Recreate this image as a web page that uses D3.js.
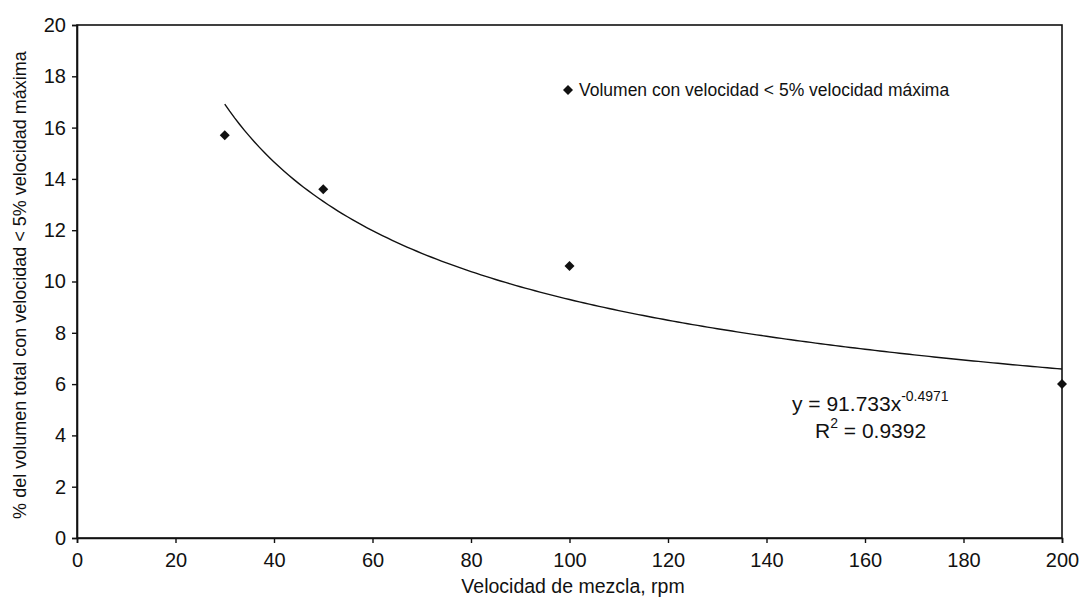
<!DOCTYPE html>
<html>
<head>
<meta charset="utf-8">
<script src="https://cdn.jsdelivr.net/npm/d3@7"></script>
<style>
  body { margin: 0; background: #fff; }
  text { font-family: "Liberation Sans", Arial, sans-serif; fill: #111; }
</style>
</head>
<body>
<div id="chart"></div>
<script>
// measured points
const rpm = [30, 50, 100, 200];
const pctVolume = [15.7, 13.6, 10.6, 6.0];

// power trendline shown in the chart: y = a * x^b
const trendA = 91.733;
const trendB = -0.4971;
const trendFrom = 30, trendTo = 200;

const xTicks = [0, 20, 40, 60, 80, 100, 120, 140, 160, 180, 200];
const yTicks = [0, 2, 4, 6, 8, 10, 12, 14, 16, 18, 20];

const svgWidth = 1085, svgHeight = 599;
const margin = { top: 25, right: 23, bottom: 61, left: 77 };
const width = svgWidth - margin.left - margin.right;
const height = svgHeight - margin.top - margin.bottom;

const svg = d3.select("#chart").append("svg")
  .attr("width", svgWidth)
  .attr("height", svgHeight);

const g = svg.append("g")
  .attr("transform", `translate(${margin.left}, ${margin.top})`);

const x = d3.scaleLinear().domain([0, 200]).range([0, width]);
const y = d3.scaleLinear().domain([0, 20]).range([height, 0]);

// frame
g.append("rect")
  .attr("width", width).attr("height", height)
  .attr("fill", "none").attr("stroke", "#111").attr("stroke-width", 1.6);

const xAxis = g.append("g")
  .attr("transform", `translate(0, ${height})`)
  .call(d3.axisBottom(x).tickValues(xTicks).tickSize(5).tickPadding(10));

const yAxis = g.append("g")
  .call(d3.axisLeft(y).tickValues(yTicks).tickSize(5).tickPadding(6));

[xAxis, yAxis].forEach(a => {
  a.select(".domain").attr("stroke", "#111").attr("stroke-width", 1.6);
  a.selectAll(".tick line").attr("stroke", "#111").attr("stroke-width", 1.4);
  a.selectAll(".tick text")
    .attr("font-size", "20px")
    .attr("font-family", "'Liberation Sans', Arial, sans-serif")
    .attr("fill", "#111");
});

// trendline
const curve = d3.range(trendFrom, trendTo + 0.5, 1).map(v => [v, trendA * Math.pow(v, trendB)]);
g.append("path")
  .datum(curve)
  .attr("fill", "none")
  .attr("stroke", "#111")
  .attr("stroke-width", 1.4)
  .attr("d", d3.line().x(d => x(d[0])).y(d => y(d[1])));

// points (square turned 45deg)
const diamond = "M0,-5L5,0L0,5L-5,0Z";
g.selectAll(".pt")
  .data(rpm.map((r, i) => ({ r: r, v: pctVolume[i] })))
  .enter().append("path")
  .attr("class", "pt")
  .attr("d", diamond)
  .attr("transform", d => `translate(${x(d.r)}, ${y(d.v)})`)
  .attr("fill", "#111");

// legend
g.append("path")
  .attr("d", diamond)
  .attr("transform", `translate(${568 - margin.left}, ${90 - margin.top})`)
  .attr("fill", "#111");
g.append("text")
  .attr("x", 579 - margin.left)
  .attr("y", 96 - margin.top)
  .attr("font-size", "17.5px")
  .text("Volumen con velocidad < 5% velocidad máxima");

// equation
const eq = g.append("text")
  .attr("x", 792 - margin.left)
  .attr("y", 411 - margin.top)
  .attr("font-size", "21px");
eq.append("tspan").text("y = 91.733x");
eq.append("tspan").attr("dy", -10).attr("font-size", "14px").text("-0.4971");

const r2 = g.append("text")
  .attr("x", 815 - margin.left)
  .attr("y", 438 - margin.top)
  .attr("font-size", "21px");
r2.append("tspan").text("R");
r2.append("tspan").attr("dy", -10).attr("font-size", "14px").text("2");
r2.append("tspan").attr("dy", 10).text(" = 0.9392");

// axis titles
svg.append("text")
  .attr("x", 573)
  .attr("y", 593)
  .attr("text-anchor", "middle")
  .attr("font-size", "19.5px")
  .text("Velocidad de mezcla, rpm");

svg.append("text")
  .attr("transform", "translate(26, 285) rotate(-90)")
  .attr("text-anchor", "middle")
  .attr("font-size", "18px")
  .text("% del volumen total con velocidad < 5% velocidad máxima");
</script>
</body>
</html>
